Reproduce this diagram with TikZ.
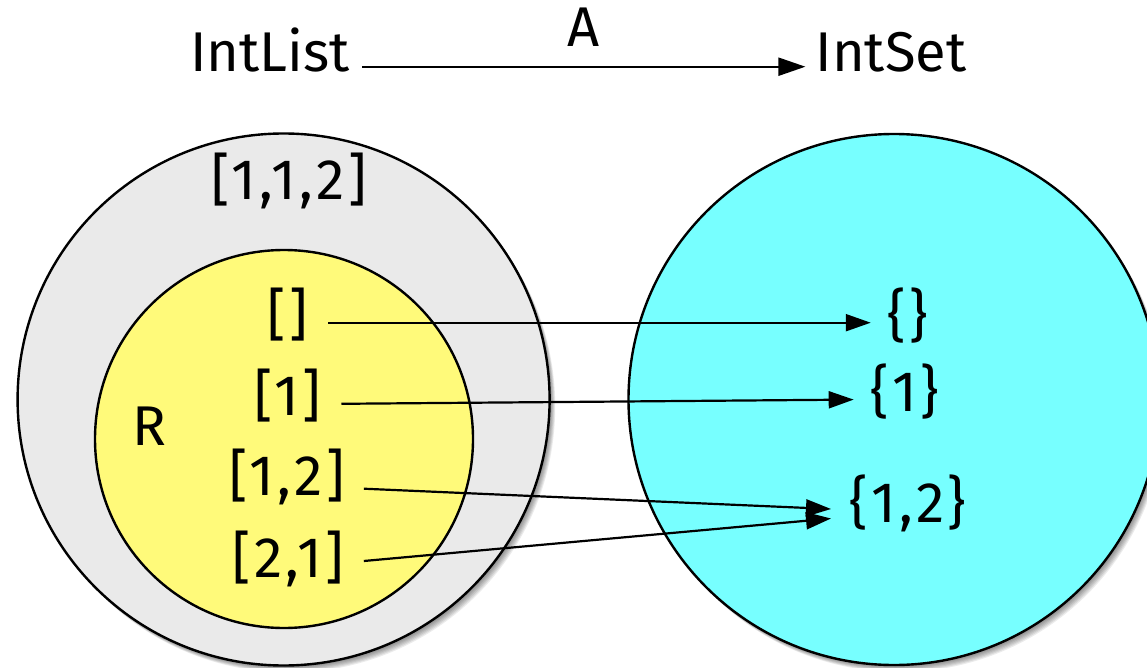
\documentclass[tikz,border=0pt]{standalone}
\usepackage{fontspec}
\setmainfont{Fira Sans}
\newfontfamily\elemfont[LetterSpace=6]{Fira Sans}
\usetikzlibrary{arrows.meta}

\definecolor{listgrey}{HTML}{EAEAEA}
\definecolor{relyellow}{HTML}{FFFA7A}
\definecolor{setcyan}{HTML}{77FFFF}

\tikzset{
  setdisk/.style={draw=black, line width=2.4pt},
  lbl/.style={inner sep=0pt, font=\fontsize{56}{60}\selectfont},
  elem/.style={inner sep=0pt, font=\elemfont\fontsize{57}{60}\selectfont},
  mapto/.style={line width=2.2pt, -{Triangle[length=25pt,width=17pt]}},
}

% soft shadow under a disk: stacked translucent copies, offset down-right
\newcommand{\softshadow}[3]{%
  \foreach \k in {1,...,7}{
    \fill[black, opacity=0.08] ({#1+0.8*\k},{#2+1.0*\k}) circle[radius=#3];
  }%
}

\begin{document}
\begin{tikzpicture}[x=1pt, y=-1pt]
  \useasboundingbox (0,0) rectangle (1147,668);
  \clip (0,0) rectangle (1147,668);
  \fill[white] (0,0) rectangle (1147,668);

  % the two carriers
  \softshadow{283.6}{399.5}{266}
  \softshadow{894}{399.5}{265.5}
  \draw[setdisk, fill=listgrey] (283.6,399.5) circle[radius=266];
  \draw[setdisk, fill=setcyan] (894,399.5) circle[radius=265.5];
  % the relation R inside IntList
  \draw[setdisk, fill=relyellow] (284,439) circle[radius=189];

  % headings
  \node[lbl, anchor=base] (intlist) at (270,72) {IntList};
  \node[lbl, anchor=base] (abs) at (584,47) {A};
  \node[lbl, anchor=base] (intset) at (891,72) {IntSet};
  \draw[line width=2.2pt, -{Triangle[length=27pt,width=18pt]}]
    ([shift={(12,-5.3)}]intlist.base east) -- ([shift={(-10,-5.3)}]intset.base west);

  % elements of IntList
  \node[elem] (l112) at (289,181) {[1,1,2]};
  \node[lbl] (r) at (149,426) {R};
  \node[elem] (l0) at (288,314.5) {[]};
  \node[elem] (l1) at (288,396) {[1]};
  \node[elem] (l12) at (287,477.4) {[1,2]};
  \node[elem] (l21) at (288,558.7) {[2,1]};

  % elements of IntSet
  \node[elem] (s0) at (908,315.2) {\{\}};
  \node[elem] (s1) at (905,391.3) {\{1\}};
  \node[elem] (s12) at (907.7,503.6) {\{1,2\}};

  % abstraction function
  \draw[mapto] ([shift={(20,8.2)}]l0.east) -- ([shift={(-17,7.5)}]s0.west);
  \draw[mapto] ([shift={(20,7.8)}]l1.east) -- ([shift={(-17,8.3)}]s1.west);
  \draw[mapto] ([shift={(19,11.3)}]l12.east) -- ([shift={(-18,5.4)}]s12.west);
  \draw[mapto] ([shift={(20,2.3)}]l21.east) -- ([shift={(-18,14.9)}]s12.west);
\end{tikzpicture}
\end{document}
